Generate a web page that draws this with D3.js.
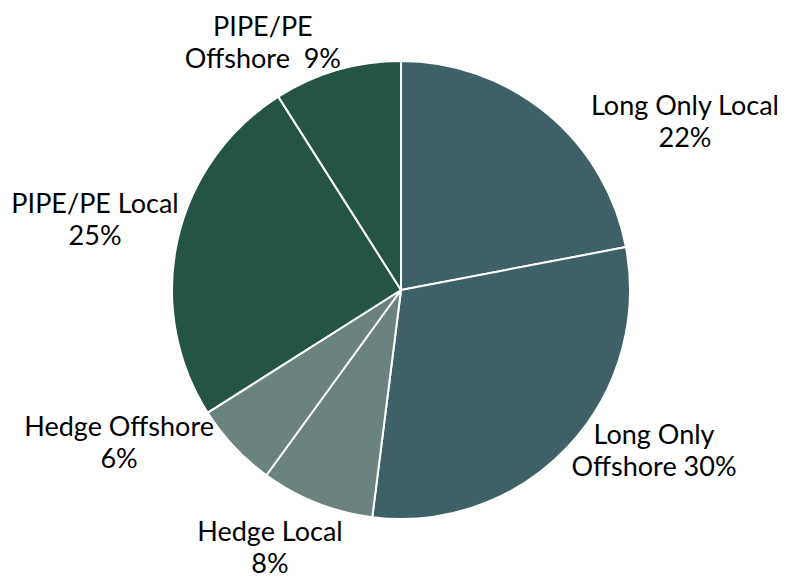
<!DOCTYPE html>
<html>
<head>
<meta charset="utf-8">
<script src="https://cdn.jsdelivr.net/npm/d3@7"></script>
<style>
  html, body { margin: 0; padding: 0; background: #ffffff; }
  svg text { font-family: "Lato", "Open Sans", sans-serif; fill: #000; }
</style>
</head>
<body>
<svg id="chart" width="787" height="578"></svg>
<script>
// Allocation by investor type (share of total, %)
const categories = ["Long Only Local", "Long Only Offshore", "Hedge Local", "Hedge Offshore", "PIPE/PE Local", "PIPE/PE Offshore"];
const values = [22, 30, 8, 6, 25, 9];
// Label text, split into lines as drawn
const labelLines = [
  ["Long Only Local", "22%"],
  ["Long Only", "Offshore 30%"],
  ["Hedge Local", "8%"],
  ["Hedge Offshore", "6%"],
  ["PIPE/PE Local", "25%"],
  ["PIPE/PE", "Offshore\u00a0\u00a09%"]
];
const groupColors = { "Long Only": "#3d6166", "Hedge": "#6b827e", "PIPE/PE": "#245444" };

// Label centres relative to the pie centre, in units of the radius
const labelOffsets = [
  [1.24, -0.735],
  [1.105, 0.70],
  [-0.572, 1.124],
  [-1.231, 0.664],
  [-1.336, -0.31],
  [-0.603, -1.083]
];

const width = 787, height = 578;
const cx = 401, cy = 290, radius = 229;
const fontSize = 27, lineGap = 32;

const svg = d3.select("#chart");
const g = svg.append("g").attr("transform", `translate(${cx},${cy})`);

const data = categories.map((c, i) => ({ name: c, value: values[i], i }));
const pie = d3.pie().value(d => d.value).sort(null);
const arc = d3.arc().innerRadius(0).outerRadius(radius);

const groupOf = name => name.startsWith("Long Only") ? "Long Only" : name.startsWith("Hedge") ? "Hedge" : "PIPE/PE";

g.selectAll("path.slice")
  .data(pie(data))
  .join("path")
  .attr("class", "slice")
  .attr("d", arc)
  .attr("fill", d => groupColors[groupOf(d.data.name)])
  .attr("stroke", "#ffffff")
  .attr("stroke-width", 2)
  .attr("stroke-linejoin", "round");

const labels = g.selectAll("text.label")
  .data(pie(data))
  .join("text")
  .attr("class", "label")
  .attr("text-anchor", "middle")
  .attr("font-size", fontSize)
  .attr("transform", d => {
    const o = labelOffsets[d.data.i];
    return `translate(${o[0] * radius},${o[1] * radius})`;
  });

labels.selectAll("tspan")
  .data(d => labelLines[d.data.i].map((t, k, arr) => ({ t, k, n: arr.length })))
  .join("tspan")
  .attr("x", 0)
  .attr("y", d => (d.k - (d.n - 1) / 2) * lineGap + fontSize * 0.36)
  .text(d => d.t);
</script>
</body>
</html>
